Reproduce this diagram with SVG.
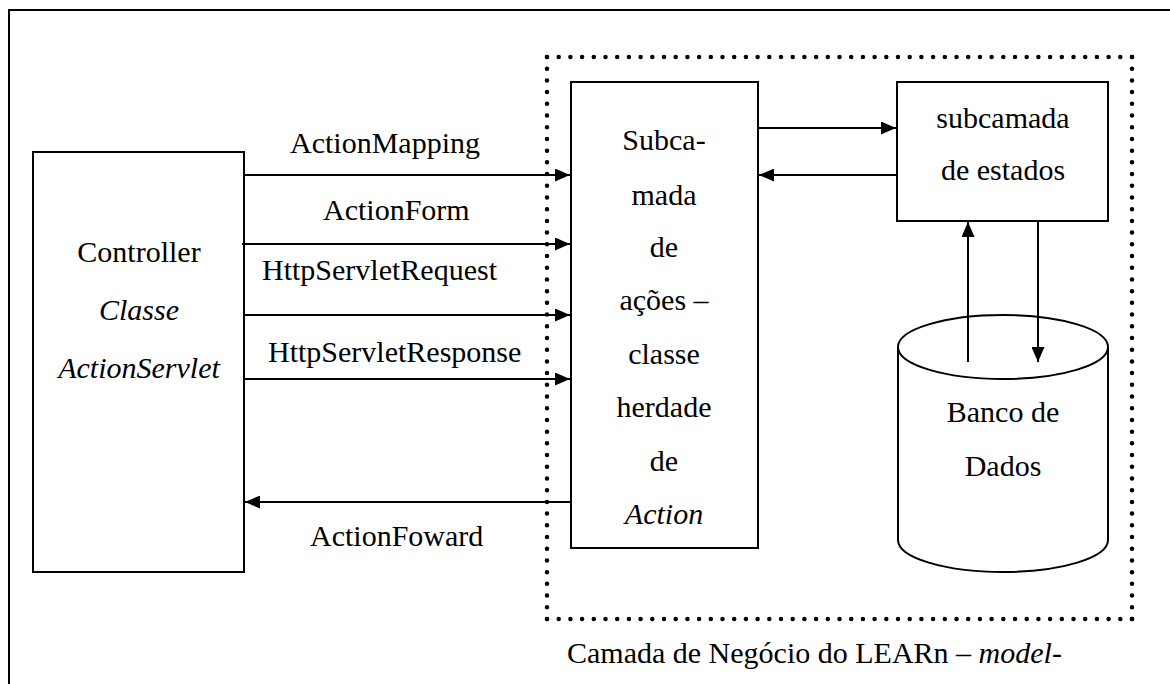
<svg xmlns="http://www.w3.org/2000/svg" width="1170" height="684" viewBox="0 0 1170 684">
<defs>
<style>
text{font-size:30px;fill:#000}
.c{text-anchor:middle}
.i{font-style:italic}
.box{fill:#fff;stroke:#000;stroke-width:2}
.ln{stroke:#000;stroke-width:2;fill:none}
.dot{stroke:#000;stroke-width:4.5;stroke-linecap:round;fill:none}
</style>
<marker id="ah" viewBox="0 0 15 13" refX="15" refY="6.5" markerWidth="15" markerHeight="13" markerUnits="userSpaceOnUse" orient="auto">
<path d="M0,0 L15,6.5 L0,13 Z" fill="#000"/>
</marker>
</defs>
<rect width="1170" height="684" fill="#fff"/>
<g font-family="Liberation Serif, Times New Roman, DejaVu Serif, serif">
<path class="ln" d="M9,684 V10 H1170"/>
<g id="camada">
<line class="dot" x1="547" y1="57" x2="1132" y2="57" stroke-dasharray="0 11.7"/>
<line class="dot" x1="547" y1="619" x2="1132" y2="619" stroke-dasharray="0 11.7"/>
<line class="dot" x1="547" y1="57" x2="547" y2="619" stroke-dasharray="0 11.708"/>
<line class="dot" x1="1132" y1="57" x2="1132" y2="619" stroke-dasharray="0 11.708"/>
<text x="567" y="663">Camada de Negócio do LEARn – <tspan class="i">model</tspan>-</text>
</g>
<g id="controller">
<rect class="box" x="33" y="152" width="211" height="420"/>
<text class="c" x="139" y="262">Controller</text>
<text class="c i" x="139" y="320">Classe</text>
<text class="c i" x="139" y="378">ActionServlet</text>
</g>
<g id="subcamada-acoes">
<rect class="box" x="571" y="82" width="187" height="466"/>
<text class="c" x="664" y="150">Subca-</text>
<text class="c" x="664" y="205">mada</text>
<text class="c" x="664" y="257">de</text>
<text class="c" x="664" y="310">ações –</text>
<text class="c" x="664" y="364">classe</text>
<text class="c" x="664" y="417">herdade</text>
<text class="c" x="664" y="471">de</text>
<text class="c i" x="664" y="524">Action</text>
</g>
<g id="subcamada-estados">
<rect class="box" x="897" y="82" width="211" height="139"/>
<text class="c" x="1003" y="128">subcamada</text>
<text class="c" x="1003" y="180">de estados</text>
</g>
<g id="banco">
<path class="box" d="M898,347 V540 A105,32 0 0 0 1108,540 V347"/>
<ellipse class="box" cx="1003" cy="347" rx="105" ry="32"/>
<text class="c" x="1003" y="422">Banco de</text>
<text class="c" x="1003" y="476">Dados</text>
</g>
<g id="connectors">
<line class="ln" x1="244" y1="175" x2="570" y2="175" marker-end="url(#ah)"/>
<line class="ln" x1="242" y1="244" x2="570" y2="244" marker-end="url(#ah)"/>
<line class="ln" x1="244" y1="315" x2="570" y2="315" marker-end="url(#ah)"/>
<line class="ln" x1="244" y1="379" x2="570" y2="379" marker-end="url(#ah)"/>
<line class="ln" x1="571" y1="502" x2="245" y2="502" marker-end="url(#ah)"/>
<line class="ln" x1="758" y1="128" x2="896" y2="128" marker-end="url(#ah)"/>
<line class="ln" x1="897" y1="175" x2="759" y2="175" marker-end="url(#ah)"/>
<line class="ln" x1="968" y1="362" x2="968" y2="222" marker-end="url(#ah)"/>
<line class="ln" x1="1038" y1="221" x2="1038" y2="362" marker-end="url(#ah)"/>
<text x="290" y="153">ActionMapping</text>
<text x="323" y="220">ActionForm</text>
<text x="262" y="280">HttpServletRequest</text>
<text x="268" y="362">HttpServletResponse</text>
<text x="310" y="546">ActionFoward</text>
</g>
</g>
</svg>
